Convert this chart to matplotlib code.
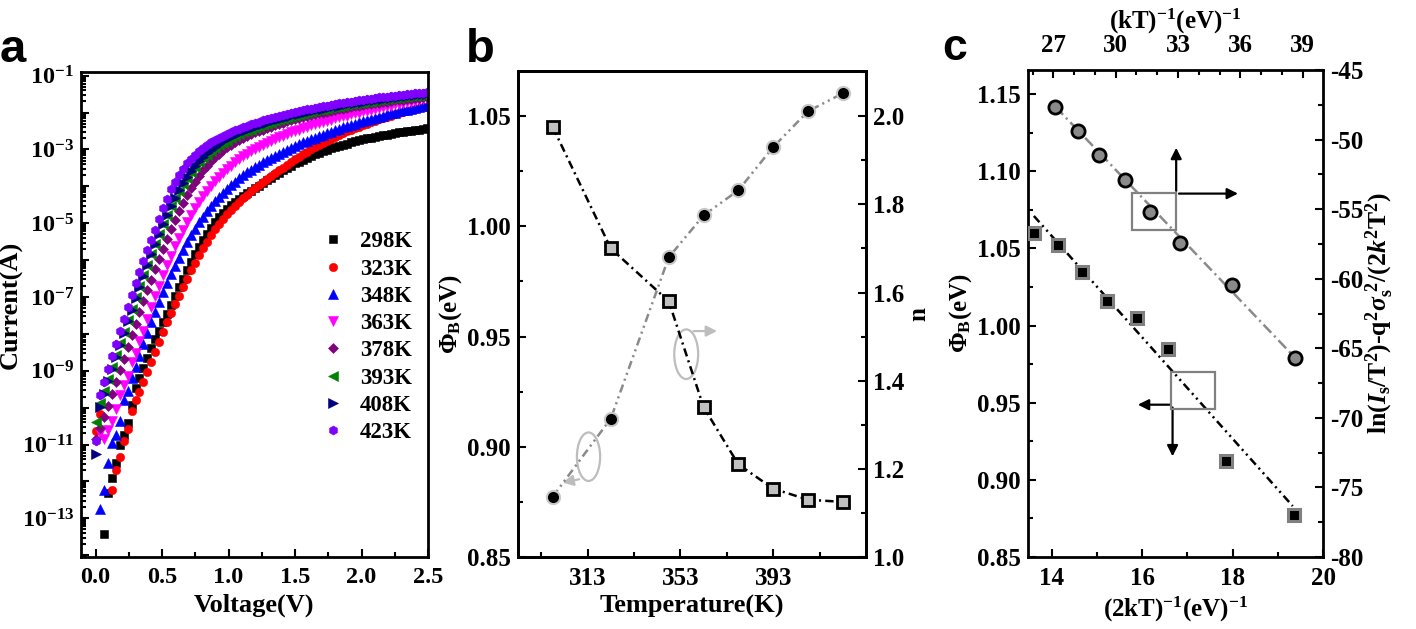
import numpy as np
import matplotlib
matplotlib.use('Agg')
import matplotlib.pyplot as plt
from matplotlib.ticker import MultipleLocator, LogLocator, FuncFormatter, NullFormatter
from matplotlib.patches import Ellipse, Rectangle

plt.rcParams['font.family'] = 'Liberation Serif'
plt.rcParams['font.weight'] = 'bold'
plt.rcParams['axes.labelweight'] = 'bold'
plt.rcParams['mathtext.fontset'] = 'custom'
plt.rcParams['mathtext.rm'] = 'Liberation Serif:bold'
plt.rcParams['mathtext.it'] = 'Liberation Serif:bold:italic'
plt.rcParams['mathtext.bf'] = 'Liberation Serif:bold'
plt.rcParams['axes.unicode_minus'] = False
plt.rcParams['lines.scale_dashes'] = False
plt.rcParams['axes.linewidth'] = 2

nan = np.nan

# ---- panel a: I-V curves, log10(I) every 0.03 V from 0 V ----
volt = np.round(np.arange(84) * 0.03, 2)
temps_a = ['298K', '323K', '348K', '363K', '378K', '393K', '408K', '423K']
logI_298 = [nan, nan, -13.43, -12.31, -11.92, -11.50, -11.02, -10.73, -10.43, -9.92,
            -9.47, -9.20, -8.93, -8.66, -8.39, -8.14, -7.93, -7.68, -7.45, -7.23,
            -6.98, -6.74, -6.50, -6.27, -6.05, -5.84, -5.64, -5.45, -5.28, -5.12,
            -4.97, -4.84, -4.72, -4.61, -4.51, -4.42, -4.34, -4.26, -4.19, -4.12,
            -4.05, -3.98, -3.91, -3.84, -3.77, -3.70, -3.63, -3.56, -3.50, -3.44,
            -3.38, -3.33, -3.28, -3.23, -3.18, -3.13, -3.09, -3.05, -3.01, -2.97,
            -2.93, -2.90, -2.87, -2.84, -2.81, -2.78, -2.75, -2.73, -2.70, -2.68,
            -2.66, -2.64, -2.62, -2.60, -2.58, -2.56, -2.54, -2.52, -2.50, -2.49,
            -2.47, -2.46, -2.44, -2.43]
logI_323 = [-10.64, -10.16, nan, nan, -12.23, -11.69, -11.33, -10.90, -10.59, -10.10,
            -9.80, -9.58, -9.30, -9.03, -8.76, -8.49, -8.22, -7.95, -7.69, -7.44,
            -7.20, -6.96, -6.73, -6.50, -6.28, -6.07, -5.87, -5.68, -5.50, -5.33,
            -5.17, -5.02, -4.88, -4.75, -4.63, -4.52, -4.42, -4.32, -4.23, -4.14,
            -4.05, -3.97, -3.89, -3.81, -3.73, -3.65, -3.57, -3.49, -3.41, -3.34,
            -3.27, -3.20, -3.13, -3.06, -3.00, -2.94, -2.88, -2.82, -2.77, -2.71,
            -2.66, -2.61, -2.56, -2.51, -2.46, -2.42, -2.38, -2.34, -2.30, -2.26,
            -2.22, -2.18, -2.15, -2.11, -2.08, -2.05, -2.02, -1.99, -1.96, -1.93,
            -1.91, -1.88, -1.86, -1.84]
logI_348 = [nan, -12.75, -12.24, -11.49, -10.97, -10.73, -10.37, -9.80, -9.56, -9.20,
            -8.90, -8.59, -8.27, -7.98, -7.68, -7.41, -7.13, -6.87, -6.62, -6.38,
            -6.15, -5.93, -5.72, -5.52, -5.33, -5.15, -4.98, -4.82, -4.67, -4.53,
            -4.40, -4.28, -4.17, -4.06, -3.96, -3.87, -3.78, -3.70, -3.62, -3.55,
            -3.48, -3.41, -3.35, -3.29, -3.23, -3.17, -3.12, -3.06, -3.01, -2.96,
            -2.91, -2.86, -2.81, -2.77, -2.72, -2.68, -2.64, -2.60, -2.56, -2.52,
            -2.48, -2.44, -2.40, -2.37, -2.33, -2.30, -2.26, -2.23, -2.20, -2.17,
            -2.14, -2.11, -2.08, -2.05, -2.02, -2.00, -1.97, -1.94, -1.92, -1.89,
            -1.87, -1.84, -1.82, -1.80]
logI_363 = [nan, -10.70, -10.85, -10.60, -10.37, -10.03, -9.67, -9.40, -9.13, -8.77,
            -8.51, -8.18, -7.91, -7.59, -7.28, -6.98, -6.69, -6.41, -6.14, -5.88,
            -5.63, -5.40, -5.18, -4.97, -4.78, -4.60, -4.43, -4.27, -4.12, -3.98,
            -3.86, -3.74, -3.63, -3.53, -3.44, -3.35, -3.27, -3.19, -3.12, -3.05,
            -2.99, -2.93, -2.87, -2.82, -2.77, -2.72, -2.67, -2.63, -2.58, -2.54,
            -2.50, -2.46, -2.42, -2.39, -2.35, -2.32, -2.29, -2.25, -2.22, -2.19,
            -2.16, -2.13, -2.10, -2.08, -2.05, -2.02, -2.00, -1.97, -1.95, -1.92,
            -1.90, -1.87, -1.85, -1.83, -1.81, -1.78, -1.76, -1.74, -1.72, -1.70,
            -1.68, -1.66, -1.64, -1.62]
logI_378 = [-10.85, -10.55, -10.25, -9.95, -9.63, -9.31, -8.99, -8.67, -8.35, -8.04,
            -7.73, -7.42, -7.12, -6.82, -6.53, -6.24, -5.96, -5.69, -5.42, -5.16,
            -4.91, -4.67, -4.45, -4.24, -4.05, -3.87, -3.71, -3.57, -3.44, -3.32,
            -3.21, -3.11, -3.02, -2.94, -2.87, -2.80, -2.74, -2.68, -2.63, -2.58,
            -2.54, -2.50, -2.46, -2.42, -2.38, -2.34, -2.31, -2.27, -2.24, -2.21,
            -2.18, -2.15, -2.12, -2.10, -2.07, -2.05, -2.02, -2.00, -1.98, -1.95,
            -1.93, -1.91, -1.89, -1.87, -1.85, -1.83, -1.81, -1.80, -1.78, -1.76,
            -1.75, -1.73, -1.72, -1.70, -1.69, -1.67, -1.66, -1.65, -1.63, -1.62,
            -1.61, -1.60, -1.58, -1.57]
logI_393 = [-10.40, -9.87, -9.55, -9.22, -8.90, -8.58, -8.26, -7.94, -7.63, -7.32,
            -7.01, -6.71, -6.41, -6.12, -5.83, -5.55, -5.28, -5.02, -4.77, -4.54,
            -4.32, -4.12, -3.94, -3.77, -3.62, -3.48, -3.35, -3.24, -3.14, -3.05,
            -2.97, -2.89, -2.82, -2.76, -2.70, -2.64, -2.59, -2.54, -2.50, -2.46,
            -2.42, -2.38, -2.34, -2.30, -2.27, -2.23, -2.20, -2.17, -2.14, -2.11,
            -2.08, -2.06, -2.03, -2.01, -1.98, -1.96, -1.94, -1.92, -1.90, -1.88,
            -1.86, -1.84, -1.82, -1.80, -1.78, -1.76, -1.75, -1.73, -1.71, -1.70,
            -1.68, -1.67, -1.65, -1.64, -1.63, -1.61, -1.60, -1.59, -1.58, -1.56,
            -1.55, -1.54, -1.53, -1.52]
logI_408 = [-11.27, -9.98, -9.62, -9.28, -8.95, -8.62, -8.30, -7.98, -7.66, -7.35,
            -7.04, -6.73, -6.43, -6.13, -5.84, -5.56, -5.29, -5.03, -4.78, -4.54,
            -4.31, -4.10, -3.91, -3.74, -3.58, -3.44, -3.31, -3.20, -3.10, -3.01,
            -2.93, -2.85, -2.78, -2.72, -2.66, -2.60, -2.55, -2.50, -2.46, -2.42,
            -2.38, -2.34, -2.30, -2.27, -2.23, -2.20, -2.17, -2.14, -2.11, -2.08,
            -2.05, -2.03, -2.00, -1.98, -1.95, -1.93, -1.91, -1.89, -1.87, -1.85,
            -1.83, -1.81, -1.79, -1.77, -1.75, -1.73, -1.72, -1.70, -1.68, -1.67,
            -1.65, -1.64, -1.62, -1.61, -1.60, -1.58, -1.57, -1.56, -1.55, -1.53,
            -1.52, -1.51, -1.50, -1.49]
logI_423 = [-10.90, -9.67, -9.30, -8.95, -8.60, -8.27, -7.93, -7.60, -7.27, -6.95,
            -6.63, -6.32, -6.02, -5.73, -5.45, -5.19, -4.88, -4.60, -4.33, -4.08,
            -3.87, -3.68, -3.52, -3.38, -3.25, -3.14, -3.04, -2.95, -2.87, -2.80,
            -2.74, -2.68, -2.63, -2.58, -2.53, -2.48, -2.44, -2.40, -2.36, -2.32,
            -2.28, -2.25, -2.21, -2.18, -2.15, -2.12, -2.09, -2.06, -2.03, -2.01,
            -1.98, -1.96, -1.93, -1.91, -1.89, -1.87, -1.85, -1.83, -1.81, -1.79,
            -1.77, -1.75, -1.73, -1.72, -1.70, -1.68, -1.67, -1.65, -1.64, -1.62,
            -1.61, -1.59, -1.58, -1.57, -1.55, -1.54, -1.53, -1.52, -1.51, -1.49,
            -1.48, -1.47, -1.46, -1.45]
series_a = [logI_298, logI_323, logI_348, logI_363, logI_378, logI_393, logI_408, logI_423]
colors_a = ['#000000', '#ff0000', '#0000ff', '#ff00ff', '#800080', '#008000', '#000080', '#8000ff']
markers_a = ['s', 'o', '^', 'v', 'D', '<', '>', 'h']
msize_a = [5.2, 6.0, 6.5, 6.5, 5.0, 6.5, 6.5, 6.5]

# ---- panel b ----
temp_b = [298, 323, 348, 363, 378, 393, 408, 423]
phi_b = [1.045, 0.990, 0.966, 0.918, 0.892, 0.881, 0.876, 0.875]
n_b = [1.137, 1.314, 1.680, 1.775, 1.832, 1.930, 2.011, 2.052]

# ---- panel c ----
x2kt_sq = [13.61, 14.14, 14.66, 15.22, 15.88, 16.56, 17.86, 19.36]
phi_c = [1.060, 1.052, 1.035, 1.016, 1.005, 0.985, 0.912, 0.877]
fit_sq_x = [13.60, 19.33]
fit_sq_y = [1.071, 0.883]
xkt_ci = [27.10, 28.19, 29.21, 30.46, 31.66, 33.10, 35.58, 38.65]
lnis_c = [-47.64, -49.38, -51.10, -52.90, -55.17, -57.45, -60.44, -65.70]
fit_ci_x = [27.10, 38.65]
fit_ci_y = [-47.64, -65.70]

fig = plt.figure(figsize=(14.16, 6.29), dpi=100)
W, H = 1416.0, 629.0


def rect(l, t, r, b):
    return [l / W, 1 - b / H, (r - l) / W, (b - t) / H]


def ticks(ax, size=18, **kw):
    ax.tick_params(which='both', direction='in', width=1.5, labelsize=size, **kw)
    ax.tick_params(which='major', length=6)
    ax.tick_params(which='minor', length=3.5)
    ax.tick_params(axis='x', pad=7)
    ax.tick_params(axis='y', pad=5)


# ================= panel a =================
ax = fig.add_axes(rect(81, 72, 428, 557))
for vals, c, m, s, lab in zip(series_a, colors_a, markers_a, msize_a, temps_a):
    vals = np.array(vals)
    ax.plot(volt[:len(vals)], 10.0 ** vals, ls='none', marker=m, ms=s,
            mfc=c, mec=c, mew=0.4, label=lab, clip_on=True)
ax.set_yscale('log')
ax.set_xlim(-0.11, 2.5)
ax.set_ylim(10 ** -14.05, 10 ** -0.9)
ax.xaxis.set_major_locator(MultipleLocator(0.5))
ax.xaxis.set_minor_locator(MultipleLocator(0.25))
ax.xaxis.set_major_formatter(FuncFormatter(lambda v, p: '%.1f' % v))
ax.yaxis.set_major_locator(LogLocator(base=10, numticks=30))
ax.yaxis.set_minor_locator(LogLocator(base=10, subs=np.arange(2, 10), numticks=200))
ax.yaxis.set_minor_formatter(NullFormatter())


def logfmt(v, p):
    e = int(round(np.log10(v)))
    return r'$10^{%d}$' % e if e % 2 else ''


ax.yaxis.set_major_formatter(FuncFormatter(logfmt))
ticks(ax, size=17.5, top=False, right=False)
ax.set_xlabel('Voltage(V)', fontsize=19, labelpad=4)
ax.set_ylabel('Current(A)', fontsize=19)
ax.yaxis.set_label_coords(-0.168, 0.52)
leg = ax.legend(loc='upper left', bbox_to_anchor=(0.655, 0.695), frameon=False,
                prop={'family': 'Liberation Serif', 'weight': 'bold', 'size': 16.5},
                handlelength=1.2, handletextpad=0.55, labelspacing=0.27,
                borderpad=0, numpoints=1)
fig.text(0 / W, 1 - 62 / H, 'a', fontsize=34, fontweight='bold', family='Liberation Sans')

# ================= panel b =================
bx = fig.add_axes(rect(518, 71, 866, 557))
bx2 = bx.twinx()
bx.plot(temp_b, phi_b, color='k', lw=1.8, ls=(0, (6, 3, 1.5, 3)),
        marker='s', ms=9, mfc='#c0c0c0', mec='k', mew=2.0, zorder=3)
bx2.plot(temp_b, n_b, color='#8a8a8a', lw=1.8, ls=(0, (6, 3, 1.5, 3, 1.5, 3)),
         marker='o', ms=9.5, mfc='k', mec='#c8c8c8', mew=1.5)
bx.set_xlim(283, 433)
bx.set_ylim(0.85, 1.0705)
bx2.set_ylim(1.0, 2.1025)
bx.set_xticks([313, 353, 393])
bx.set_xticks([293, 333, 373, 413], minor=True)
bx.yaxis.set_major_locator(MultipleLocator(0.05))
bx.yaxis.set_minor_locator(MultipleLocator(0.025))
bx.yaxis.set_major_formatter(FuncFormatter(lambda v, p: '%.2f' % v))
bx2.yaxis.set_major_locator(MultipleLocator(0.2))
bx2.yaxis.set_minor_locator(MultipleLocator(0.1))
bx2.yaxis.set_major_formatter(FuncFormatter(lambda v, p: '%.1f' % v))
ticks(bx, top=False, right=False)
ticks(bx2, top=False, left=False)
bx.set_xlabel('Temperature(K)', fontsize=19, labelpad=4)
bx.set_ylabel(r'$\Phi_\mathrm{B}$(eV)', fontsize=18, labelpad=2)
bx2.set_ylabel('n', fontsize=18, labelpad=2, rotation=90)
bx.add_patch(Ellipse((313.4, 0.8955), 10.0, 0.022, fill=False, ec='#bdbdbd', lw=1.6))
bx.add_patch(Ellipse((355.5, 0.9420), 10.3, 0.0225, fill=False, ec='#bdbdbd', lw=1.6))
bx.annotate('', xy=(301.0, 0.8835), xytext=(310.5, 0.8855),
            arrowprops=dict(arrowstyle='-|>', color='#bdbdbd', lw=1.6, mutation_scale=16))
bx.annotate('', xy=(370.0, 0.9525), xytext=(357.5, 0.9525),
            arrowprops=dict(arrowstyle='-|>', color='#bdbdbd', lw=1.6, mutation_scale=16))
fig.text(466 / W, 1 - 62 / H, 'b', fontsize=34, fontweight='bold', family='Liberation Sans')

# ================= panel c =================
cx = fig.add_axes(rect(1028, 70, 1323, 557))
cr = fig.add_axes(rect(1028, 70, 1323, 557), frameon=False)
cr.patch.set_alpha(0)
cx.plot(fit_sq_x, fit_sq_y, color='k', lw=1.8, ls=(0, (6, 3, 1.5, 3, 1.5, 3)), zorder=2)
cx.plot(x2kt_sq, phi_c, ls='none', marker='s', ms=8.5, mfc='k', mec='#808080', mew=2.2, zorder=3)
cr.plot(fit_ci_x, fit_ci_y, color='#8a8a8a', lw=1.8, ls=(0, (8, 3, 1.5, 3)), zorder=2)
cr.plot(xkt_ci, lnis_c, ls='none', marker='o', ms=9.5, mfc='#8a8a8a', mec='k', mew=2.0, zorder=3)
cx.set_xlim(13.47, 20.0)
cx.set_ylim(0.85, 1.1656)
cr.set_xlim(25.78, 39.98)
cr.set_ylim(-80, -45)
cx.xaxis.set_major_locator(MultipleLocator(2))
cx.xaxis.set_minor_locator(MultipleLocator(1))
cx.yaxis.set_major_locator(MultipleLocator(0.05))
cx.yaxis.set_minor_locator(MultipleLocator(0.025))
cx.yaxis.set_major_formatter(FuncFormatter(lambda v, p: '%.2f' % v))
cr.xaxis.tick_top()
cr.yaxis.tick_right()
cr.xaxis.set_label_position('top')
cr.yaxis.set_label_position('right')
cr.xaxis.set_major_locator(MultipleLocator(3))
cr.xaxis.set_minor_locator(MultipleLocator(1))
cr.yaxis.set_major_locator(MultipleLocator(5))
cr.yaxis.set_minor_locator(MultipleLocator(2.5))
ticks(cx, top=False, right=False)
ticks(cr, bottom=False, left=False, top=True, right=True)
cr.tick_params(axis='x', pad=9)
cx.set_xlabel(r'(2kT)$^{-1}$(eV)$^{-1}$', fontsize=18, labelpad=4)
cx.set_ylabel(r'$\Phi_\mathrm{B}$(eV)', fontsize=18, labelpad=2)
cr.set_xlabel(r'(kT)$^{-1}$(eV)$^{-1}$', fontsize=18, labelpad=4)
cr.set_ylabel(r'ln($I_\mathrm{s}$/T$^2$)-q$^2\sigma_\mathrm{s}^{\ 2}$/(2$k^2$T$^2$)',
              fontsize=18.5, labelpad=0, rotation=90)
cx.add_patch(Rectangle((15.78, 1.0617), 0.97, 0.0242, fill=False, ec='#808080', lw=1.6, zorder=4))
cx.add_patch(Rectangle((16.64, 0.9459), 0.96, 0.0238, fill=False, ec='#808080', lw=1.6, zorder=4))
arr = dict(arrowstyle='-|>', color='k', lw=1.6, mutation_scale=16)
cx.annotate('', xy=(16.75, 1.117), xytext=(16.75, 1.0855), arrowprops=arr)
cx.annotate('', xy=(18.18, 1.0855), xytext=(16.75, 1.0855), arrowprops=arr)
cx.annotate('', xy=(15.84, 0.9487), xytext=(16.67, 0.9487), arrowprops=arr)
cx.annotate('', xy=(16.67, 0.9134), xytext=(16.67, 0.9487), arrowprops=arr)
fig.text(942 / W, 1 - 60 / H, 'c', fontsize=32, fontweight='bold', family='Liberation Sans')

fig.savefig('out.png', dpi=100)
